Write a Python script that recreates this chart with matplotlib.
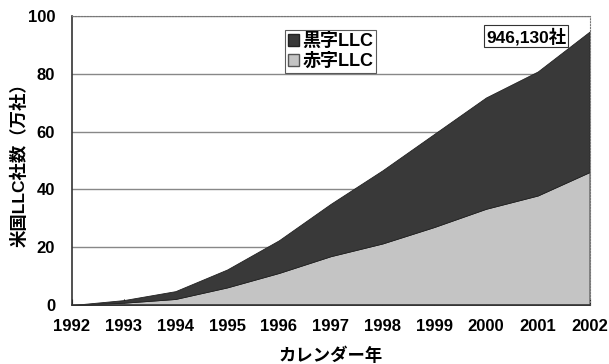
import numpy as np
import matplotlib.pyplot as plt
from matplotlib.patches import Patch

fam = ['Liberation Sans', 'Noto Sans CJK JP', 'DejaVu Sans']
plt.rcParams['font.family'] = fam

years = [1992, 1993, 1994, 1995, 1996, 1997, 1998, 1999, 2000, 2001, 2002]
# 万社
akaji = [0, 0.8, 2.1, 6.1, 11.1, 16.9, 21.3, 27.0, 33.3, 37.9, 46.0]
kuroji = [0, 0.9, 2.7, 6.2, 11.3, 18.1, 25.3, 32.2, 38.5, 42.9, 48.6]
total_label = '946,130社'

fig = plt.figure(figsize=(6.09, 3.64), dpi=100)
ax = fig.add_axes([0.118, 0.162, 0.850, 0.794])

ax.stackplot(years, akaji, kuroji, colors=['#c4c4c4', '#393939'],
             edgecolor='#222222', linewidth=0.6, zorder=2)

ax.set_xlim(1992, 2002)
ax.set_ylim(0, 100)
ax.set_xticks(years)
ax.set_yticks(range(0, 101, 20))
ax.yaxis.grid(True, color='#888888', linewidth=1.0, zorder=1)
ax.set_axisbelow(True)

for s in ['top', 'right']:
    ax.spines[s].set_linestyle(':')
    ax.spines[s].set_color('#777777')
for s in ['left', 'bottom']:
    ax.spines[s].set_color('#333333')
    ax.spines[s].set_linewidth(1.2)

ax.tick_params(axis='x', direction='in', length=4, pad=10, labelsize=12)
ax.tick_params(axis='y', length=0, pad=12, labelsize=12)
for lbl in ax.get_xticklabels() + ax.get_yticklabels():
    lbl.set_fontweight('bold')

ax.set_xlabel('カレンダー年', fontsize=12.5, fontweight='bold',
              family=['Noto Sans CJK JP'])
ax.xaxis.set_label_coords(0.5, -0.145)
ax.set_ylabel('米国LLC社数（万社）', fontsize=12.5, fontweight='bold')
ax.yaxis.set_label_coords(-0.085, 0.5)

handles = [Patch(facecolor='#393939', edgecolor='#222222', label='黒字LLC'),
           Patch(facecolor='#c4c4c4', edgecolor='#555555', label='赤字LLC')]
leg = ax.legend(handles=handles, loc='upper left', bbox_to_anchor=(0.412, 0.95),
                prop={'size': 13, 'weight': 'bold', 'family': fam},
                frameon=True, fancybox=False,
                handlelength=0.6, handleheight=0.6, handletextpad=0.2,
                borderpad=0.15, labelspacing=0.15, borderaxespad=0)
leg.get_frame().set_edgecolor('#333333')
leg.get_frame().set_linewidth(0.8)

ax.text(0.955, 0.96, total_label, transform=ax.transAxes, ha='right', va='top',
        fontsize=12.5, fontweight='bold',
        bbox=dict(boxstyle='square,pad=0.12', facecolor='white', edgecolor='#333333', linewidth=0.8))

fig.savefig('out.png', dpi=100)
